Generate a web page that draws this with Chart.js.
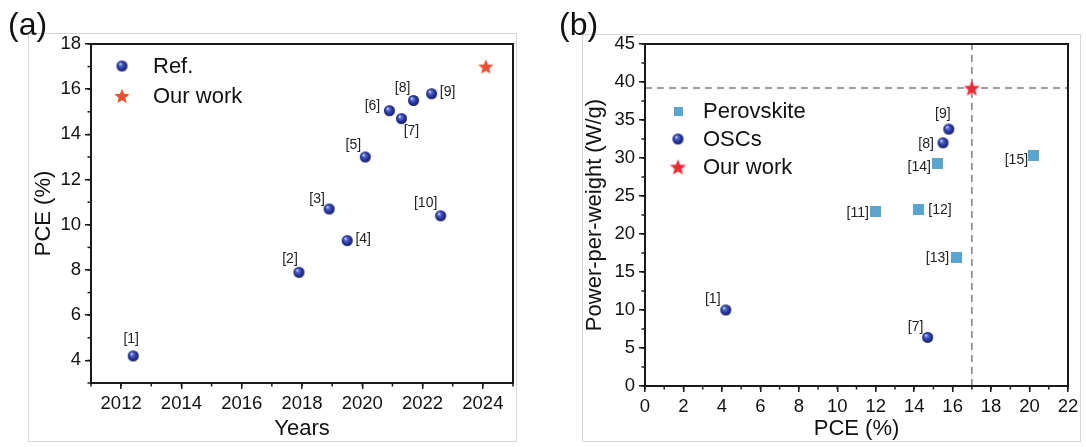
<!DOCTYPE html>
<html>
<head>
<meta charset="utf-8">
<script src="https://cdn.jsdelivr.net/npm/chart.js@4.4.1/dist/chart.umd.min.js"></script>
<style>
  body { margin: 0; background: #fff; }
  .wrap { position: relative; width: 1086px; height: 447px; overflow: hidden; }
  canvas { position: absolute; top: 0; }
  .frame { position: absolute; border: 1.5px solid #d8d8d8; box-sizing: border-box; }
  .tag { position: absolute; font: 32px/32px "Liberation Sans", Arial, sans-serif; color: #111; }
</style>
</head>
<body>
<div class="wrap">
  <div class="frame" style="left:28px;top:33px;width:489px;height:409px"></div>
  <div class="frame" style="left:582px;top:34px;width:499px;height:408px"></div>
  <canvas id="chartA" width="543" height="447" style="left:0"></canvas>
  <canvas id="chartB" width="543" height="447" style="left:543px"></canvas>
  <div class="tag" style="left:8px;top:8px">(a)</div>
  <div class="tag" style="left:559px;top:8px">(b)</div>
</div>
<script>
// ---- panel (a): PCE vs year ----
const refYears = [2012.4, 2017.9, 2018.9, 2019.5, 2020.1, 2020.9, 2021.3, 2021.7, 2022.3, 2022.6];
const refPce = [4.2, 7.9, 10.7, 9.3, 13.0, 15.05, 14.7, 15.5, 15.8, 10.4];
const refTags = ["[1]", "[2]", "[3]", "[4]", "[5]", "[6]", "[7]", "[8]", "[9]", "[10]"];
const ourYear = [2024.1];
const ourPceA = [17.0];

// ---- panel (b): power-per-weight vs PCE ----
const oscPce = [4.2, 14.7, 15.5, 15.8];
const oscPpw = [10.0, 6.4, 32.0, 33.8];
const oscTags = ["[1]", "[7]", "[8]", "[9]"];
const perPce = [12.0, 14.2, 16.2, 15.2, 20.2];
const perPpw = [23.0, 23.2, 16.9, 29.3, 30.3];
const perTags = ["[11]", "[12]", "[13]", "[14]", "[15]"];
const ourPceB = [17.0];
const ourPpw = [39.2];

const FONT = '"Liberation Sans", Arial, sans-serif';
const INK = "#1a1a1a";

function makeSphere(r) {
  const c = document.createElement("canvas");
  c.width = c.height = r * 2 + 2;
  const g = c.getContext("2d");
  const m = r + 1;
  const grad = g.createRadialGradient(m - r * 0.35, m - r * 0.4, r * 0.05, m, m, r);
  grad.addColorStop(0, "#e0e6ff");
  grad.addColorStop(0.25, "#5a6dd2");
  grad.addColorStop(0.6, "#2c3aa6");
  grad.addColorStop(1, "#141d66");
  g.fillStyle = grad;
  g.beginPath();
  g.arc(m, m, r, 0, Math.PI * 2);
  g.fill();
  return c;
}

function makeStar(R, color) {
  const c = document.createElement("canvas");
  c.width = c.height = Math.ceil(R * 2 + 2);
  const g = c.getContext("2d");
  const m = c.width / 2;
  g.fillStyle = color;
  g.beginPath();
  for (let i = 0; i < 10; i++) {
    const rr = i % 2 === 0 ? R : R * 0.44;
    const a = -Math.PI / 2 + (i * Math.PI) / 5;
    g.lineTo(m + rr * Math.cos(a), m + rr * Math.sin(a) + R * 0.08);
  }
  g.closePath();
  g.fill();
  return c;
}

function makeSquare(s, color) {
  const c = document.createElement("canvas");
  c.width = c.height = s;
  const g = c.getContext("2d");
  g.fillStyle = color;
  g.fillRect(0, 0, s, s);
  return c;
}

const sphere = makeSphere(5.5);
const starA = makeStar(8, "#ee5030");
const starB = makeStar(8.5, "#ee2a35");
const square = makeSquare(11, "#5aa5d0");
const squareSmall = makeSquare(9.5, "#5aa5d0");

function pts(xs, ys) {
  return xs.map((x, i) => ({ x: x, y: ys[i] }));
}

// box around plot area + short minor ticks
function frameAndMinor(minX, minY) {
  return {
    id: "frameAndMinor",
    afterDraw(chart) {
      const ctx = chart.ctx;
      const a = chart.chartArea;
      ctx.save();
      ctx.strokeStyle = INK;
      ctx.lineWidth = 2;
      ctx.strokeRect(a.left, a.top, a.right - a.left, a.bottom - a.top);
      ctx.lineWidth = 1.5;
      const sx = chart.scales.x;
      for (let v = sx.min; v <= sx.max + 1e-9; v += minX) {
        const p = sx.getPixelForValue(v);
        ctx.beginPath();
        ctx.moveTo(p, a.bottom);
        ctx.lineTo(p, a.bottom + 3.5);
        ctx.stroke();
      }
      const sy = chart.scales.y;
      for (let v = sy.min; v <= sy.max + 1e-9; v += minY) {
        const p = sy.getPixelForValue(v);
        ctx.beginPath();
        ctx.moveTo(a.left, p);
        ctx.lineTo(a.left - 3.5, p);
        ctx.stroke();
      }
      ctx.restore();
    },
  };
}

// "[n]" tags next to the points
function pointTags(sets) {
  return {
    id: "pointTags",
    afterDatasetsDraw(chart) {
      const ctx = chart.ctx;
      ctx.save();
      ctx.font = "14px " + FONT;
      ctx.fillStyle = "#222";
      ctx.textAlign = "center";
      ctx.textBaseline = "middle";
      sets.forEach((s) => {
        const meta = chart.getDatasetMeta(s.dataset);
        s.tags.forEach((t, i) => {
          const el = meta.data[i];
          ctx.fillText(t, el.x + s.offsets[i][0], el.y + s.offsets[i][1]);
        });
      });
      ctx.restore();
    },
  };
}

// legend drawn inside the plot
function insideLegend(items, markerX, textX) {
  return {
    id: "insideLegend",
    afterDraw(chart) {
      const ctx = chart.ctx;
      ctx.save();
      ctx.font = "22px " + FONT;
      ctx.fillStyle = "#111";
      ctx.textBaseline = "middle";
      items.forEach((it) => {
        ctx.drawImage(it.img, markerX - it.img.width / 2, it.y - it.img.height / 2);
        ctx.fillText(it.text, textX, it.y + 1);
      });
      ctx.restore();
    },
  };
}

function axis(min, max, step, title, fit, titlePad, isX) {
  return {
    type: "linear",
    min: min,
    max: max,
    ticks: {
      stepSize: step,
      includeBounds: false,
      autoSkip: false,
      maxRotation: 0,
      color: "#111",
      padding: 4,
      font: { family: FONT, size: 18.5 },
      callback: (v) => String(v),
    },
    grid: { drawOnChartArea: false, drawTicks: true, tickLength: 6, color: INK, lineWidth: 1.5 },
    border: { color: INK, width: 2 },
    title: {
      display: true,
      text: title,
      color: "#111",
      font: { family: FONT, size: 22 },
      padding: titlePad,
    },
    // labelled ticks only on multiples of the step
    afterBuildTicks: (s) => {
      const out = [];
      for (let v = Math.ceil(min / step) * step; v <= max + 1e-9; v += step) out.push({ value: v });
      s.ticks = out;
    },
    afterFit: (s) => {
      if (isX) s.height = fit;
      else s.width = fit;
    },
  };
}

const chartA = new Chart(document.getElementById("chartA"), {
  type: "scatter",
  data: {
    datasets: [
      { label: "Ref.", data: pts(refYears, refPce), pointStyle: sphere, pointRadius: 6, order: 1 },
      { label: "Our work", data: pts(ourYear, ourPceA), pointStyle: starA, pointRadius: 8, order: 0 },
    ],
  },
  options: {
    responsive: false,
    animation: false,
    events: [],
    layout: { padding: { top: 44, right: 30, left: 0, bottom: 0 } },
    plugins: { legend: { display: false }, tooltip: { enabled: false } },
    scales: {
      x: axis(2011, 2025, 2, "Years", 64, { top: 0, bottom: 5 }, true),
      y: axis(3, 18, 2, "PCE (%)", 91, { top: 31, bottom: 0 }, false),
    },
  },
  plugins: [
    frameAndMinor(1, 1),
    pointTags([
      {
        dataset: 0,
        tags: refTags,
        offsets: [[-2, -17], [-9, -13], [-12, -10], [16, -1], [-12, -12], [-17, -5], [10, 13], [-11, -12], [16, -2], [-15, -13]],
      },
    ]),
    insideLegend(
      [
        { img: sphere, text: "Ref.", y: 66 },
        { img: starA, text: "Our work", y: 96 },
      ],
      122,
      153
    ),
  ],
});

const dashed = { borderColor: "#808080", borderWidth: 1.5, borderDash: [7, 5], showLine: true, pointRadius: 0, order: 5 };

const chartB = new Chart(document.getElementById("chartB"), {
  type: "scatter",
  data: {
    datasets: [
      Object.assign({ label: "h", data: pts([0, 22], [ourPpw[0], ourPpw[0]]) }, dashed),
      Object.assign({ label: "v", data: pts([ourPceB[0], ourPceB[0]], [0, 45]) }, dashed),
      { label: "Perovskite", data: pts(perPce, perPpw), pointStyle: square, pointRadius: 6, order: 2 },
      { label: "OSCs", data: pts(oscPce, oscPpw), pointStyle: sphere, pointRadius: 6, order: 1 },
      { label: "Our work", data: pts(ourPceB, ourPpw), pointStyle: starB, pointRadius: 8, order: 0 },
    ],
  },
  options: {
    responsive: false,
    animation: false,
    events: [],
    layout: { padding: { top: 44, right: 18, left: 0, bottom: 0 } },
    plugins: { legend: { display: false }, tooltip: { enabled: false } },
    scales: {
      x: axis(0, 22, 2, "PCE (%)", 61, { top: 0, bottom: 5 }, true),
      y: axis(0, 45, 5, "Power-per-weight (W/g)", 102, { top: 39, bottom: 0 }, false),
    },
  },
  plugins: [
    frameAndMinor(1, 2.5),
    pointTags([
      { dataset: 3, tags: oscTags, offsets: [[-13, -11], [-12, -10], [-17, 1], [-6, -15]] },
      { dataset: 2, tags: perTags, offsets: [[-18, 2], [22, 0], [-19, 1], [-18, 4], [-17, 4]] },
    ]),
    insideLegend(
      [
        { img: squareSmall, text: "Perovskite", y: 111 },
        { img: sphere, text: "OSCs", y: 139 },
        { img: starB, text: "Our work", y: 167 },
      ],
      135,
      160
    ),
  ],
});
</script>
</body>
</html>
